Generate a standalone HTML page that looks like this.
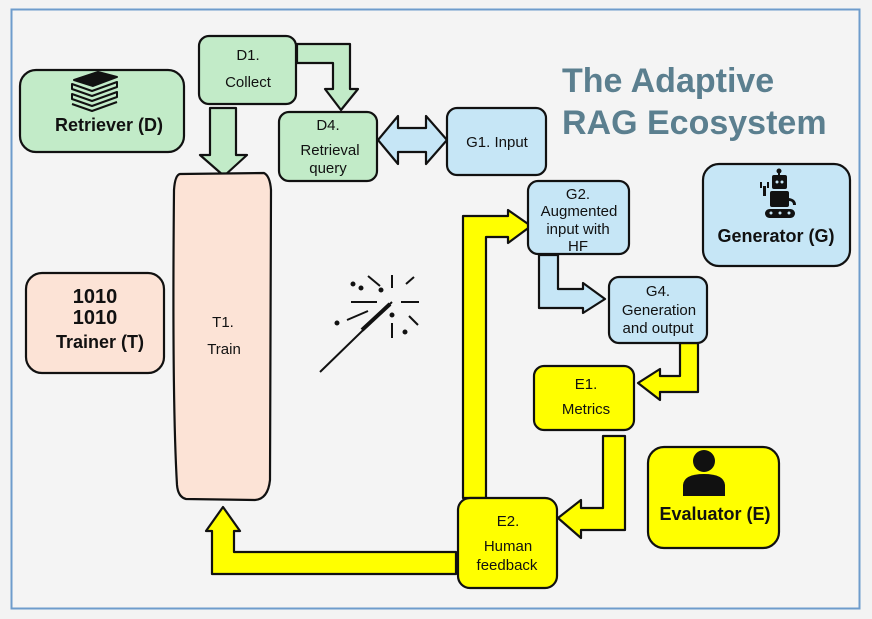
<!DOCTYPE html>
<html><head><meta charset="utf-8"><style>
html,body{margin:0;padding:0;background:#f3f3f3;}
svg{display:block;font-family:"Liberation Sans",Arial,sans-serif;}
</style></head><body>
<svg width="872" height="619" viewBox="0 0 872 619" xmlns="http://www.w3.org/2000/svg">
<rect x="0" y="0" width="872" height="619" fill="#f3f3f3"/>
<rect x="11.5" y="9.5" width="848" height="599" fill="#f4f4f4" stroke="#6e9ccc" stroke-width="2"/>
<g stroke="#111" stroke-width="2.2" stroke-linejoin="round">
<!-- arrows -->
<polygon points="210,108 236,108 236,155 247,155 224,176 200,155 210,155" fill="#c2ebc8"/>
<polygon points="297,44 350,44 350,89 358,89 341,110 325,89 333,89 333,63 297,63" fill="#c2ebc8"/>
<polygon points="378,140 398,116 398,128 426,128 426,116 447,140 426,164 426,152 398,152 398,164" fill="#c6e6f6"/>
<polygon points="539,255 558,255 558,289 583,289 583,283 605,299 583,313 583,308 539,308" fill="#c6e6f6"/>
<polygon points="680,343 698,343 698,392 660,392 660,400 638,383 660,369 660,376 680,376" fill="#ffff00"/>
<polygon points="603,436 625,436 625,530 581,530 581,538 558,518 581,500 581,508 603,508" fill="#ffff00"/>
<polygon points="463,498 463,216 508,216 508,210 531,226 508,243 508,237 486,237 486,498" fill="#ffff00"/>
<polygon points="456,552 456,574 212,574 212,531 206,531 223,507 240,531 234,531 234,552" fill="#ffff00"/>
<!-- boxes -->
<rect x="199" y="36" width="97" height="68" rx="10" fill="#c2ebc8"/>
<rect x="20" y="70" width="164" height="82" rx="16" fill="#c2ebc8"/>
<rect x="279" y="112" width="98" height="69" rx="10" fill="#c2ebc8"/>
<rect x="447" y="108" width="99" height="67" rx="10" fill="#c6e6f6"/>
<path d="M180,174 L264,173 Q270,176 271,190 L270,480 Q268,499 255,500 L186,499 Q178,497 177,485 Q172,400 174,190 Q175,175 180,174Z" fill="#fce3d6"/>
<rect x="26" y="273" width="138" height="100" rx="16" fill="#fce3d6"/>
<rect x="528" y="181" width="101" height="73" rx="10" fill="#c6e6f6"/>
<rect x="703" y="164" width="147" height="102" rx="16" fill="#c6e6f6"/>
<rect x="609" y="277" width="98" height="66" rx="10" fill="#c6e6f6"/>
<rect x="534" y="366" width="100" height="64" rx="10" fill="#ffff00"/>
<rect x="648" y="447" width="131" height="101" rx="16" fill="#ffff00"/>
<rect x="458" y="498" width="99" height="90" rx="12" fill="#ffff00"/>
</g>
<g fill="#111" text-anchor="middle" font-size="15">
<text x="248" y="60">D1.</text><text x="248" y="87">Collect</text>
<text x="328" y="130">D4.</text><text x="330" y="155">Retrieval</text><text x="328" y="173">query</text>
<text x="497" y="147">G1. Input</text>
<text x="578" y="199">G2.</text><text x="579" y="216">Augmented</text><text x="578" y="234">input with</text><text x="578" y="251">HF</text>
<text x="658" y="296">G4.</text><text x="659" y="315">Generation</text><text x="658" y="333">and output</text>
<text x="586" y="389">E1.</text><text x="586" y="414">Metrics</text>
<text x="508" y="526">E2.</text><text x="508" y="551">Human</text><text x="507" y="570">feedback</text>
<text x="223" y="327">T1.</text><text x="224" y="354">Train</text>
<g font-weight="bold" font-size="18">
<text x="109" y="131">Retriever (D)</text>
<text x="100" y="348">Trainer (T)</text>
<text x="776" y="242">Generator (G)</text>
<text x="715" y="520">Evaluator (E)</text>
<text x="95" y="303" font-size="20">1010</text>
<text x="95" y="324" font-size="20">1010</text>
</g>
</g>
<g font-weight="bold" font-size="34" fill="#5b7f8f">
<text x="562" y="92">The Adaptive</text>
<text x="562" y="134">RAG Ecosystem</text>
</g>
<!-- books icon -->
<g fill="#111" stroke="#111" stroke-width="2" stroke-linejoin="round">
<path d="M74,80 L98,72 L117,77 L93,86Z"/>
<path d="M72,84 L92,91 L117,82 L117,87 L92,96 L72,89Z" fill="none"/>
<path d="M72,94 L92,101 L117,92 L117,97 L92,106 L72,99Z" fill="none"/>
<path d="M72,104 L92,111 L117,102" fill="none"/>
</g>
<!-- robot -->
<g fill="#111">
<circle cx="779" cy="171" r="2.5"/>
<rect x="778" y="171" width="2" height="5"/>
<rect x="772" y="175" width="15" height="14" rx="2"/>
<rect x="770" y="191" width="19" height="16" rx="2"/>
<rect x="765" y="209" width="30" height="9" rx="4.5"/>
<rect x="763" y="186" width="3" height="10"/>
<rect x="760" y="182" width="2" height="6"/><rect x="767" y="182" width="2" height="6"/>
<path d="M789,198 Q796,199 796,205 L793,205 Q793,201 789,201Z"/>
</g>
<g fill="#c6e6f6"><circle cx="777" cy="182" r="1.5"/><circle cx="782" cy="182" r="1.5"/>
<circle cx="771" cy="213" r="1.5"/><circle cx="780" cy="213" r="1.5"/><circle cx="789" cy="213" r="1.5"/></g>
<!-- person -->
<g fill="#111">
<circle cx="704" cy="461" r="11"/>
<path d="M683,496 L683,485 Q684,474 704,474 Q724,474 725,485 L725,496Z"/>
</g>
<!-- wand -->
<g stroke="#111" stroke-width="2" fill="#111">
<line x1="320" y1="372" x2="392" y2="302"/>
<line x1="362" y1="330" x2="390" y2="304" stroke-width="4"/>
<line x1="351" y1="302" x2="377" y2="302"/>
<line x1="401" y1="302" x2="419" y2="302"/>
<line x1="368" y1="276" x2="380" y2="286"/>
<line x1="392" y1="275" x2="392" y2="288"/>
<line x1="406" y1="284" x2="414" y2="277"/>
<line x1="347" y1="320" x2="368" y2="311"/>
<line x1="409" y1="316" x2="418" y2="325"/>
<line x1="392" y1="323" x2="392" y2="338"/>
<circle cx="353" cy="284" r="1.5"/><circle cx="361" cy="288" r="1.5"/><circle cx="381" cy="290" r="1.5"/>
<circle cx="337" cy="323" r="1.5"/><circle cx="392" cy="315" r="1.5"/><circle cx="405" cy="332" r="1.5"/>
</g>
</svg>
</body></html>
